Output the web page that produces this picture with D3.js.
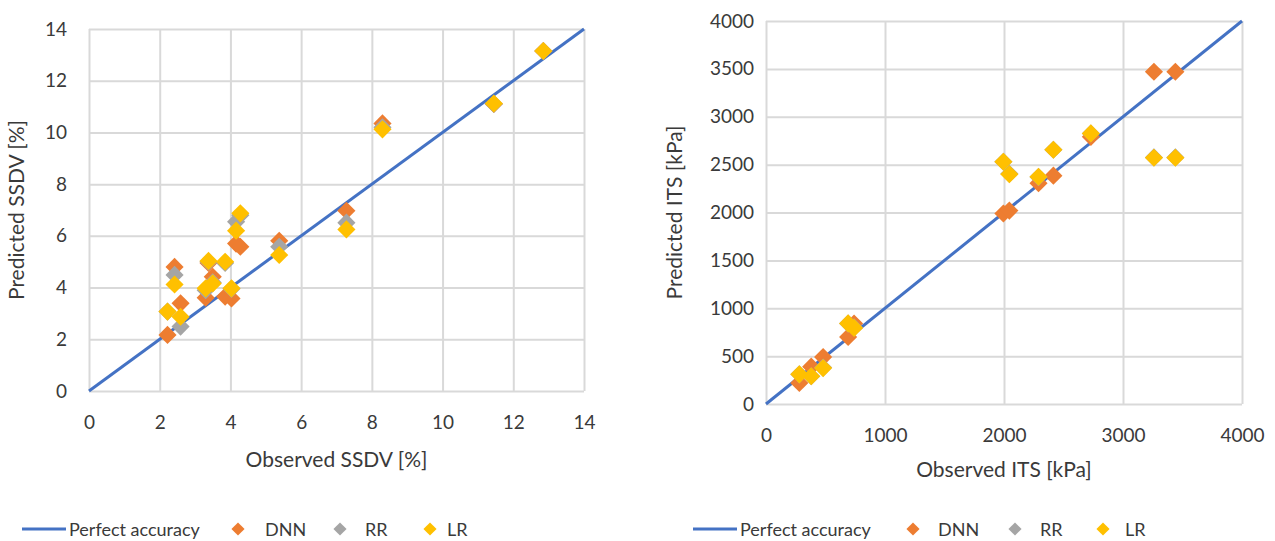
<!DOCTYPE html>
<html>
<head>
<meta charset="utf-8">
<script src="https://cdn.jsdelivr.net/npm/d3@7"></script>
<style>
  body { margin: 0; background: #fff; }
  svg { font-family: Lato, "Liberation Sans", Arial, sans-serif; }
  .grid line { stroke: #d9d9d9; stroke-width: 2; }
  .grid path { display: none; }
  .tick text { fill: #3a3a3a; font-size: 19px; }
</style>
</head>
<body>
<svg width="1275" height="541"></svg>
<script>
// left chart: SSDV [%]
const ssdvObserved = [2.22, 2.42, 2.59, 3.30, 3.38, 3.50, 3.85, 4.03, 4.16, 4.28, 5.38, 7.28, 8.30, 11.45, 12.85];
const ssdvDNN = [2.17, 4.80, 3.39, 3.61, 4.95, 4.42, 3.65, 3.58, 5.70, 5.58, 5.81, 6.97, 10.35, 11.10, 13.15];
const ssdvRR = [3.07, 4.49, 2.49, 3.90, 5.00, 4.20, 4.95, 3.95, 6.55, 6.80, 5.58, 6.51, 10.20, 11.10, 13.15];
const ssdvLR = [3.07, 4.12, 2.87, 3.97, 5.03, 4.16, 5.00, 3.97, 6.20, 6.87, 5.26, 6.25, 10.12, 11.12, 13.15];
const ssdvTicks = [0, 2, 4, 6, 8, 10, 12, 14];

// right chart: ITS [kPa]
const itsObserved = [280, 380, 480, 690, 740, 1995, 2045, 2290, 2415, 2730, 3260, 3440];
const itsDNN = [220, 390, 490, 700, 840, 1990, 2020, 2305, 2385, 2790, 3470, 3470];
const itsRR = [310, 290, 380, 840, 800, 2530, 2405, 2370, 2655, 2825, 2575, 2575];
const itsLR = [310, 290, 375, 842, 795, 2530, 2400, 2373, 2655, 2826, 2572, 2572];
const itsTicksX = [0, 1000, 2000, 3000, 4000];
const itsTicksY = [0, 500, 1000, 1500, 2000, 2500, 3000, 3500, 4000];

const seriesNames = ['DNN', 'RR', 'LR'];
const colors = { DNN: '#ED7D31', RR: '#A5A5A5', LR: '#FFC000', line: '#4472C4' };
const textColor = '#3a3a3a';

const svg = d3.select('svg');

function drawChart (opt) {
	const g = svg.append('g').attr('transform', `translate(${opt.left}, ${opt.top})`);
	const width = opt.width, height = opt.height;

	const x = d3.scaleLinear().domain(opt.domain).range([ 0, width ]);
	const y = d3.scaleLinear().domain(opt.domain).range([ height, 0 ]);

	// gridlines
	g.append('g').attr('class', 'grid').attr('transform', `translate(0, ${height})`)
		.call(d3.axisBottom(x).tickValues(opt.xTicks).tickSize(-height).tickFormat(''));
	g.append('g').attr('class', 'grid')
		.call(d3.axisLeft(y).tickValues(opt.yTicks).tickSize(-width).tickFormat(''));

	// tick labels
	const xa = g.append('g').attr('transform', `translate(0, ${height})`)
		.call(d3.axisBottom(x).tickValues(opt.xTicks).tickSize(0).tickPadding(opt.xPad).tickFormat(d3.format('d')));
	xa.select('.domain').remove();
	const ya = g.append('g')
		.call(d3.axisLeft(y).tickValues(opt.yTicks).tickSize(0).tickPadding(opt.yPad).tickFormat(d3.format('d')));
	ya.select('.domain').remove();
	g.selectAll('.tick text').attr('font-family', 'Lato, "Liberation Sans", Arial, sans-serif');

	// perfect accuracy line
	g.append('line')
		.attr('x1', x(opt.domain[0])).attr('y1', y(opt.domain[0]))
		.attr('x2', x(opt.domain[1])).attr('y2', y(opt.domain[1]))
		.attr('stroke', colors.line).attr('stroke-width', 3);

	const diamond = d3.symbol().type(d3.symbolDiamond2).size(210);
	opt.series.forEach((s) => {
		g.selectAll(null)
			.data(opt.observed.map((o, i) => [ o, s.values[i] ]))
			.enter()
			.append('path')
			.attr('d', diamond)
			.attr('transform', (d) => `translate(${x(d[0])}, ${y(d[1])})`)
			.attr('fill', colors[s.name]);
	});

	svg.append('text')
		.attr('x', opt.left + width / 2)
		.attr('y', opt.xTitleY)
		.attr('text-anchor', 'middle')
		.attr('font-size', 21)
		.attr('fill', textColor)
		.text(opt.xTitle);
	svg.append('text')
		.attr('transform', `translate(${opt.yTitleX}, ${opt.top + height / 2}) rotate(-90)`)
		.attr('text-anchor', 'middle')
		.attr('font-size', 21)
		.attr('fill', textColor)
		.text(opt.yTitle);

	// legend
	const lg = svg.append('g').attr('transform', `translate(${opt.legendX}, 529)`);
	lg.append('line').attr('x1', 0).attr('x2', 44).attr('y1', 0).attr('y2', 0)
		.attr('stroke', colors.line).attr('stroke-width', 3);
	lg.append('text').attr('x', 47).attr('y', 7).attr('font-size', 18).attr('fill', textColor).text('Perfect accuracy');
	const small = d3.symbol().type(d3.symbolDiamond2).size(110);
	seriesNames.forEach((name, i) => {
		const mx = opt.legendMarks[i];
		lg.append('path').attr('d', small).attr('transform', `translate(${mx}, 0)`).attr('fill', colors[name]);
		lg.append('text').attr('x', mx + opt.legendGap[i]).attr('y', 7).attr('font-size', 18).attr('fill', textColor).text(name);
	});
}

drawChart({
	left: 89, top: 29, width: 495, height: 362,
	domain: [ 0, 14 ], xTicks: ssdvTicks, yTicks: ssdvTicks,
	observed: ssdvObserved,
	series: [ { name: 'DNN', values: ssdvDNN }, { name: 'RR', values: ssdvRR }, { name: 'LR', values: ssdvLR } ],
	xPad: 25, yPad: 22,
	xTitle: 'Observed SSDV [%]', xTitleY: 467, yTitle: 'Predicted SSDV [%]', yTitleX: 24,
	legendX: 22, legendMarks: [ 216, 318, 408 ], legendGap: [ 27, 25, 17 ]
});

drawChart({
	left: 766, top: 21, width: 476, height: 383,
	domain: [ 0, 4000 ], xTicks: itsTicksX, yTicks: itsTicksY,
	observed: itsObserved,
	series: [ { name: 'DNN', values: itsDNN }, { name: 'RR', values: itsRR }, { name: 'LR', values: itsLR } ],
	xPad: 25, yPad: 12,
	xTitle: 'Observed ITS [kPa]', xTitleY: 477, yTitle: 'Predicted ITS [kPa]', yTitleX: 682,
	legendX: 693, legendMarks: [ 220, 322, 410 ], legendGap: [ 25, 25, 22 ]
});
</script>
</body>
</html>
